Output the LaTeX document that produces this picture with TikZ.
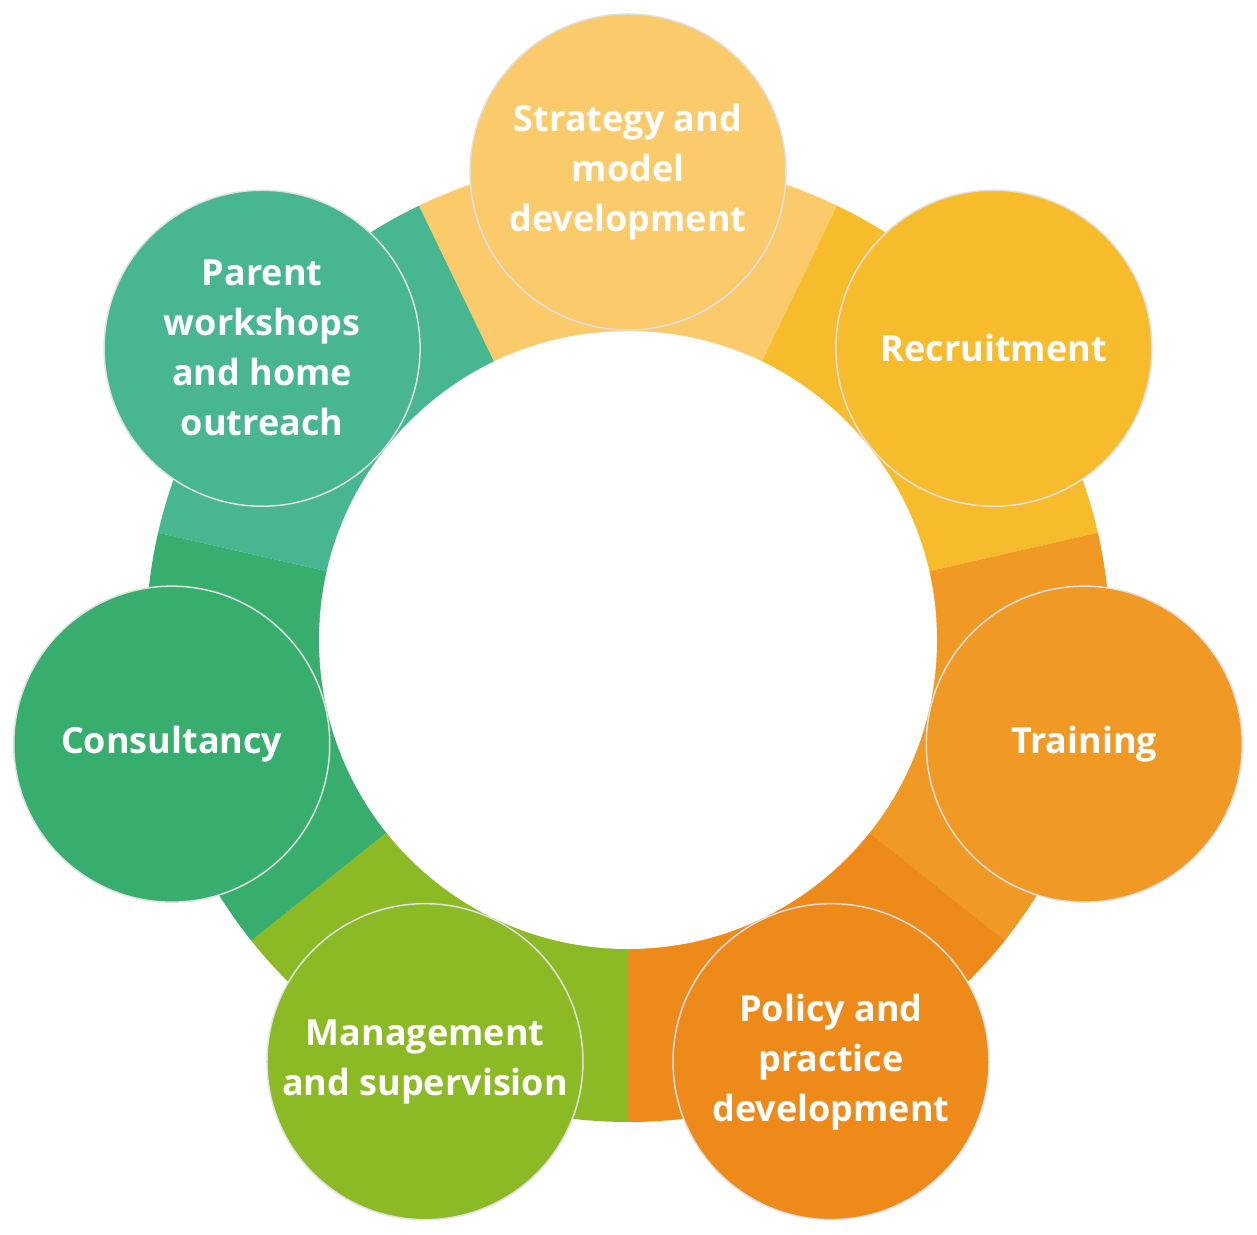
\documentclass[tikz,border=0pt]{standalone}
\usepackage{fontspec}
\setmainfont{Open Sans}
\definecolor{cA}{HTML}{FBCB6B}
\definecolor{cB}{HTML}{F7BC2C}
\definecolor{cC}{HTML}{F09A25}
\definecolor{cD}{HTML}{EE8A1A}
\definecolor{cE}{HTML}{8BBA25}
\definecolor{cF}{HTML}{37AE6E}
\definecolor{cG}{HTML}{48B691}
\begin{document}
\begin{tikzpicture}[x=1pt,y=1pt,
  bub/.style={circle,minimum size=316pt,inner sep=0pt,align=center,text=white,
    font=\fontsize{36}{50}\selectfont\bfseries,draw=black!12,line width=1.5pt}]
\useasboundingbox (-628,-594) rectangle (629,640);
\foreach \a/\c in {90/cA,38.57/cB,-12.86/cC,-64.29/cD,-115.71/cE,-167.14/cF,141.43/cG}{
  \fill[\c] (\a-25.72:482) arc[start angle=\a-25.72,end angle=\a+25.72,radius=482]
     -- (\a+25.72:300) arc[start angle=\a+25.72,end angle=\a-25.72,radius=300] -- cycle;
}
\fill[white] (0,0) circle (309);
\node[bub,fill=cA] (s) at (90:468) {Strategy and\\model\\development};
\node[bub,fill=cB] (r) at (38.57:468) {Recruitment};
\node[bub,fill=cC] (t) at (-12.86:468) {Training};
\node[bub,fill=cD] (p) at (-64.29:468) {Policy and\\practice\\development};
\node[bub,fill=cE] (m) at (-115.71:468) {Management\\and supervision};
\node[bub,fill=cF] (c) at (-167.14:468) {Consultancy};
\node[bub,fill=cG] (w) at (141.43:468) {Parent\\workshops\\and home\\outreach};
\end{tikzpicture}
\end{document}
